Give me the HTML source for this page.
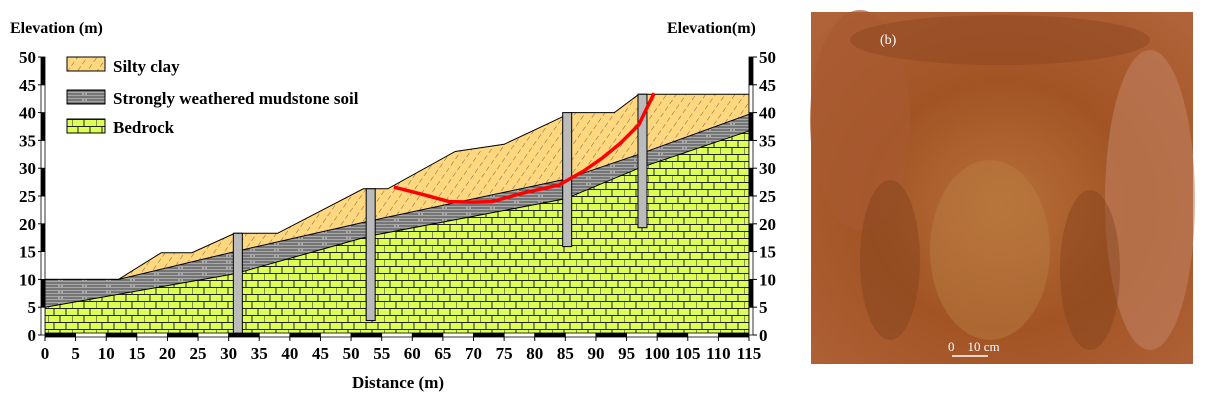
<!DOCTYPE html>
<html><head><meta charset="utf-8"><style>
body{margin:0;background:#fff;width:1205px;height:405px;overflow:hidden;position:relative;font-family:"Liberation Serif",serif}
svg{position:absolute;left:0;top:0}
</style></head><body>
<svg id="chart" width="1205" height="405">
<defs>
<pattern id="clay" width="8" height="8" patternUnits="userSpaceOnUse" patternTransform="rotate(35)">
<rect width="8" height="8" fill="#ffd77f"/><line x1="0" y1="0" x2="0" y2="8" stroke="#333" stroke-width="0.7" stroke-dasharray="5,3"/></pattern>
<pattern id="mud" width="24" height="6" patternUnits="userSpaceOnUse">
<rect width="24" height="6" fill="#a8a8a8"/><line x1="0" y1="1" x2="24" y2="1" stroke="#222" stroke-width="0.7"/><line x1="0" y1="4" x2="24" y2="4" stroke="#222" stroke-width="0.7" stroke-dasharray="10,2,1,2,9,0"/></pattern>
<pattern id="rock" width="24" height="14" patternUnits="userSpaceOnUse">
<rect width="24" height="14" fill="#ddff55"/><path d="M0 0.5H24M0 7.5H24M6 0V7M18 0V7M0 7V14M12 7V14" stroke="#222" stroke-width="1" fill="none"/></pattern>
<radialGradient id="soil" cx="50%" cy="55%" r="70%"><stop offset="0" stop-color="#b87038"/><stop offset="0.5" stop-color="#a25425"/><stop offset="1" stop-color="#b06238"/></radialGradient>
</defs>
<g id="plot"></g>
<text x="10" y="33" font-weight="bold" font-size="16">Elevation (m)</text>
<text x="667" y="33" font-weight="bold" font-size="16">Elevation(m)</text>
<text x="398" y="388" font-weight="bold" font-size="17" text-anchor="middle">Distance (m)</text>
<g>
<rect x="67" y="57" width="38" height="14" fill="url(#clay)" stroke="#000"/>
<text x="113" y="72" font-weight="bold" font-size="17">Silty clay</text>
<rect x="67" y="90" width="38" height="14" fill="url(#mud)" stroke="#000"/>
<text x="113" y="104" font-weight="bold" font-size="17">Strongly weathered mudstone soil</text>
<rect x="67" y="119" width="38" height="14" fill="url(#rock)" stroke="#000"/>
<text x="113" y="133" font-weight="bold" font-size="17">Bedrock</text>
</g>
<g>
<rect x="811" y="12" width="382" height="352" fill="url(#soil)"/>
<ellipse cx="860" cy="120" rx="50" ry="110" fill="#a85a30" opacity="0.7"/>
<ellipse cx="1150" cy="200" rx="45" ry="150" fill="#c08060" opacity="0.6"/>
<ellipse cx="990" cy="250" rx="60" ry="90" fill="#b87c40" opacity="0.5"/>
<ellipse cx="1000" cy="40" rx="150" ry="25" fill="#8e4520" opacity="0.5"/>
<ellipse cx="890" cy="260" rx="30" ry="80" fill="#7e3e18" opacity="0.4"/>
<ellipse cx="1090" cy="270" rx="30" ry="80" fill="#7e3e18" opacity="0.4"/>
<text x="880" y="44" fill="#fff" font-size="14">(b)</text>
<text x="948" y="351" fill="#fff" font-size="13">0&#160;&#160;&#160;&#160;10 cm</text>
<line x1="952" y1="356" x2="988" y2="356" stroke="#fff" stroke-width="1.5"/>
</g>
</svg>
<script>
const surfaceX=[0,12,19,24,31,38,52,56,67,75,86,93,97,115];
const surfaceY=[10,10,14.8,14.8,18.3,18.3,26.3,26.3,33,34.3,40,40,43.3,43.3];
const mudTopX=[0,12,31,53,85,97,115];
const mudTopY=[10,10,15,20.5,28,32.5,39.7];
const rockTopX=[0,31,53,85,97,115];
const rockTopY=[5,11,17.8,24.5,30,36.7];
const boreX=[31.5,53.2,85.3,97.6];
const boreTop=[18.3,26.3,40,43.3];
const boreBottom=[0,2.6,15.9,19.3];
const slipX=[57,62,66,70,73,78,84,88,91,94,97,99.5];
const slipY=[26.6,25.2,24,23.9,24,25.5,27,29.5,31.8,34.5,37.8,43.5];
const xTicks=[0,5,10,15,20,25,30,35,40,45,50,55,60,65,70,75,80,85,90,95,100,105,110,115];
const yTicks=[0,5,10,15,20,25,30,35,40,45,50];
const X=d=>45+d*(704/115), Y=e=>335-e*(278/50);
const NS='http://www.w3.org/2000/svg', g=document.getElementById('plot');
function mk(t,a){const e=document.createElementNS(NS,t);for(const k in a)e.setAttribute(k,a[k]);g.appendChild(e);return e;}
function pts(xs,ys){return xs.map((x,i)=>X(x).toFixed(1)+','+Y(ys[i]).toFixed(1)).join(' ');}
const base=' '+X(115)+','+Y(0)+' '+X(0)+','+Y(0);
let e=mk('polygon',{points:pts(surfaceX,surfaceY)+base,fill:'url(#clay)',stroke:'#000','stroke-width':1});

e=mk('polygon',{points:pts(mudTopX,mudTopY)+base,fill:'url(#mud)',stroke:'#000','stroke-width':1});

e=mk('polygon',{points:pts(rockTopX,rockTopY)+base,fill:'url(#rock)',stroke:'#000','stroke-width':1});

boreX.forEach((b,i)=>{const r=mk('rect',{x:X(b)-4.5,y:Y(boreTop[i]),width:9,height:Y(boreBottom[i])-Y(boreTop[i]),fill:'#bbb',stroke:'#000','stroke-width':1});

});
e=mk('polyline',{points:pts(slipX,slipY),fill:'none',stroke:'#f00','stroke-width':3.5,'stroke-linejoin':'round'});

for(let i=0;i<xTicks.length-1;i++){const r=mk('rect',{x:X(xTicks[i]),y:333,width:X(xTicks[i+1])-X(xTicks[i]),height:4,fill:i%2?'#fff':'#000',stroke:'#000','stroke-width':0.8});
}
xTicks.forEach(t=>{const s=mk('text',{x:X(t),y:359,'font-size':17,'font-weight':'bold','text-anchor':'middle'});s.textContent=t;

mk('line',{x1:X(t),y1:337,x2:X(t),y2:341,stroke:'#000'});});
[[X(0)-4,'left'],[X(115),'right']].forEach(([ax,side])=>{
for(let i=0;i<yTicks.length-1;i++){const r=mk('rect',{x:ax,y:Y(yTicks[i+1]),width:4,height:Y(yTicks[i])-Y(yTicks[i+1]),fill:(yTicks.length-2-i)%2?'#fff':'#000',stroke:'#000','stroke-width':0.8});
}
yTicks.forEach(t=>{const s=mk('text',{x:side=='left'?ax-5:ax+10,y:Y(t)+6,'font-size':17,'font-weight':'bold','text-anchor':side=='left'?'end':'start'});s.textContent=t;

mk('line',{x1:side=='left'?ax-3:ax+4,y1:Y(t),x2:side=='left'?ax:ax+8,y2:Y(t),stroke:'#000'});});});
</script>
</body></html>
